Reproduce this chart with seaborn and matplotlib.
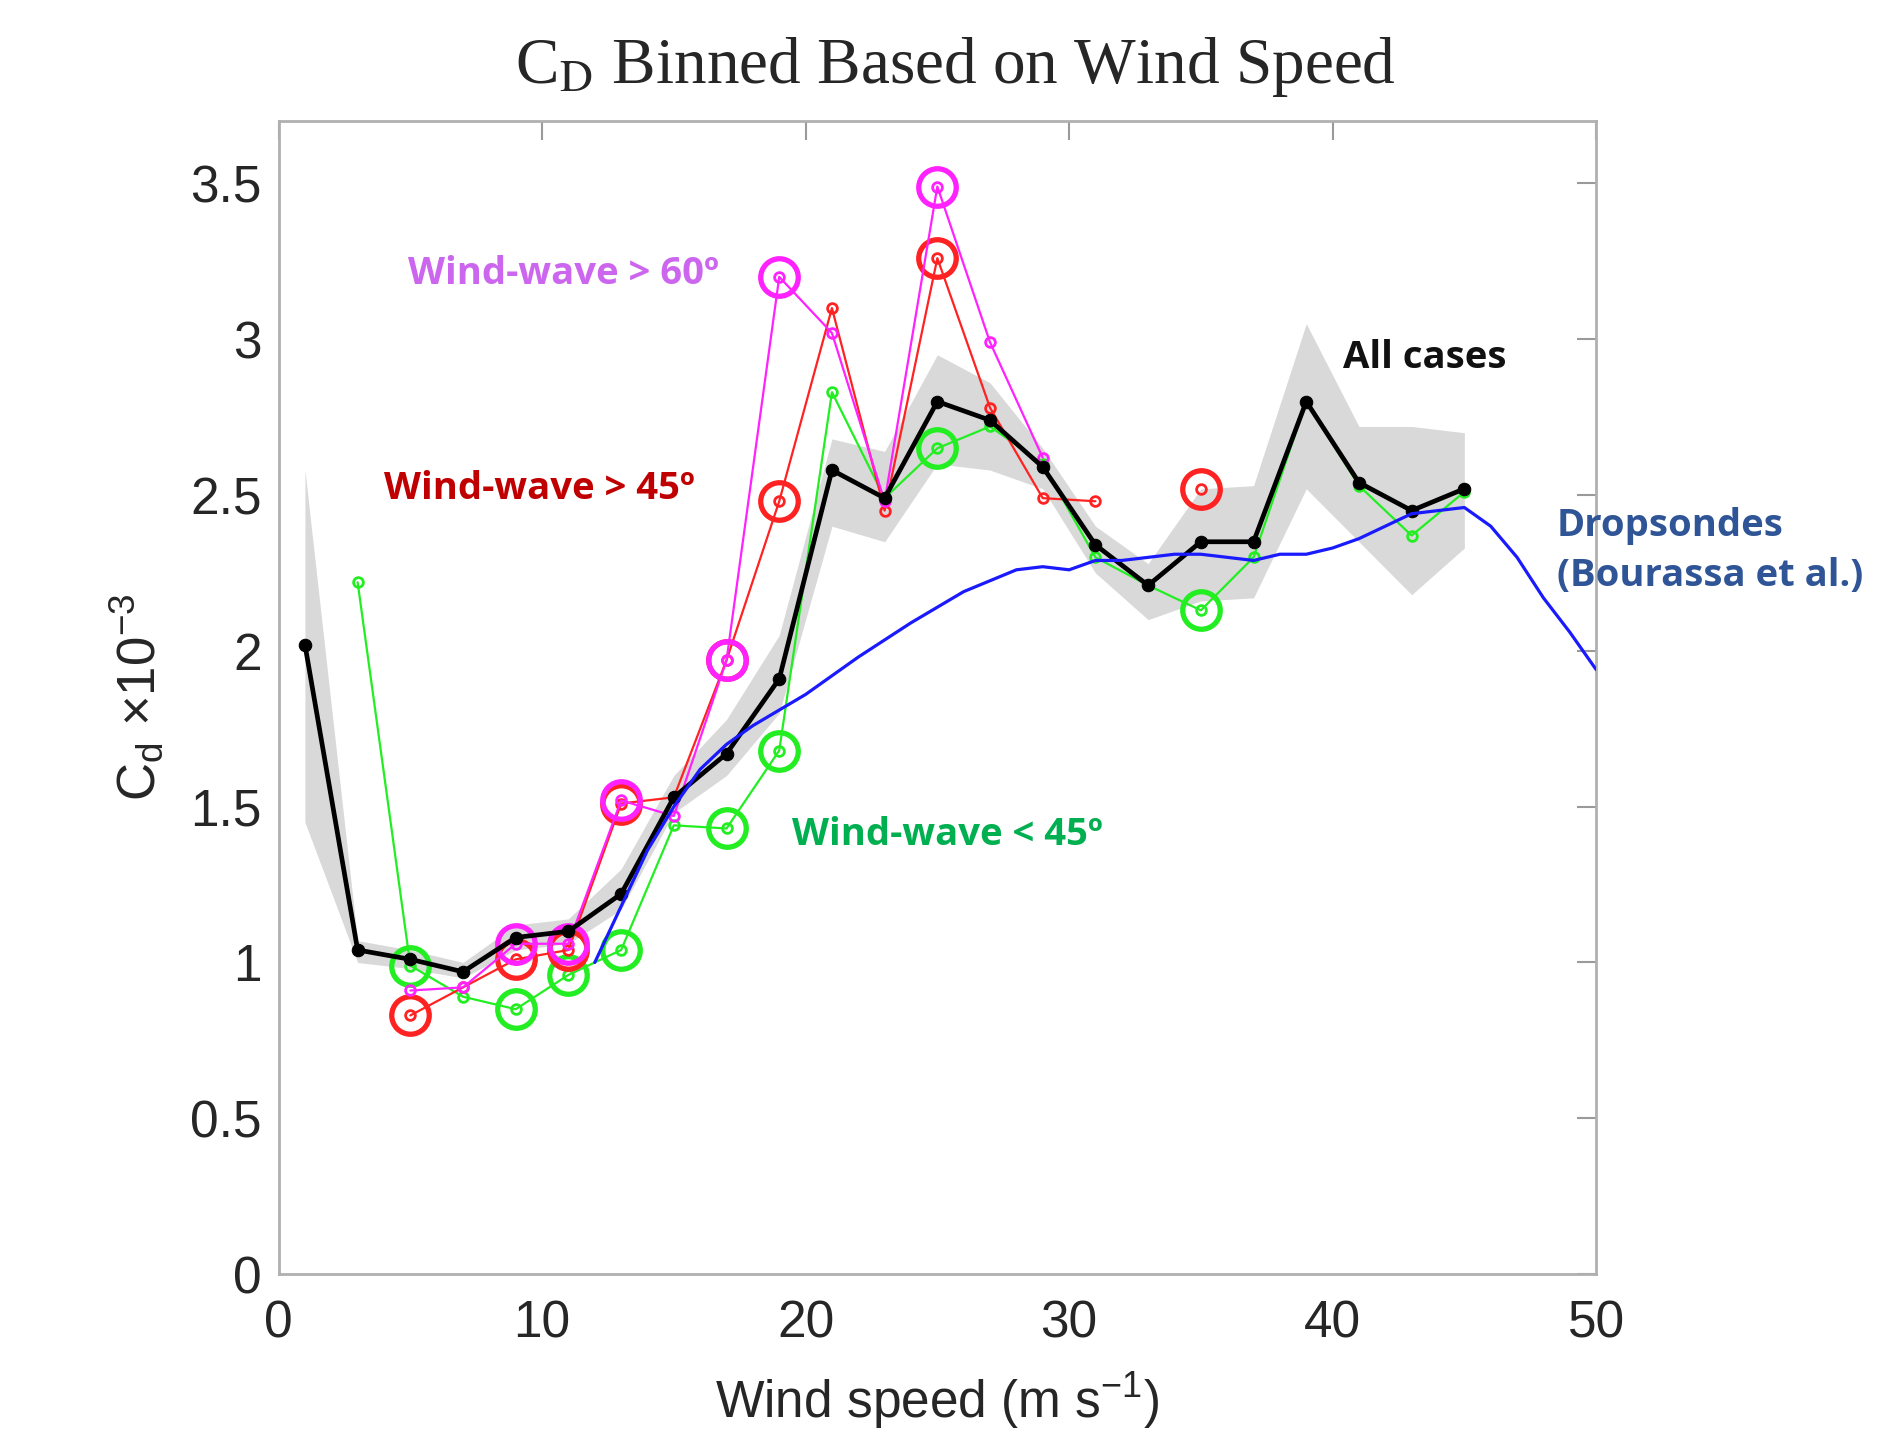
import seaborn as sns
import numpy as np
import pandas as pd
import matplotlib.pyplot as plt

sns.set_style("white")
plt.rcParams["font.family"] = ["Liberation Sans", "DejaVu Sans"]
plt.rcParams["mathtext.fontset"] = "custom"
plt.rcParams["mathtext.rm"] = "Liberation Sans"
plt.rcParams["mathtext.it"] = "Liberation Sans:italic"

# all cases (black) with spread band
all_x = [1, 3, 5, 7, 9, 11, 13, 15, 17, 19, 21, 23, 25, 27, 29, 31, 33, 35, 37, 39, 41, 43, 45]
all_cd = [2.02, 1.04, 1.01, 0.97, 1.08, 1.10, 1.22, 1.53, 1.67, 1.91, 2.58, 2.49, 2.80, 2.74,
          2.59, 2.34, 2.21, 2.35, 2.35, 2.80, 2.54, 2.45, 2.52]
all_hi = [2.58, 1.07, 1.04, 1.00, 1.12, 1.14, 1.30, 1.60, 1.78, 2.05, 2.68, 2.64, 2.95, 2.86,
          2.65, 2.40, 2.28, 2.52, 2.53, 3.05, 2.72, 2.72, 2.70]
all_lo = [1.45, 1.00, 0.98, 0.95, 1.04, 1.06, 1.17, 1.48, 1.60, 1.80, 2.40, 2.35, 2.60, 2.58,
          2.52, 2.25, 2.10, 2.16, 2.17, 2.52, 2.35, 2.18, 2.33]

# wind-wave > 60 (magenta)
m60_x = [5, 7, 9, 11, 13, 15, 17, 19, 21, 23, 25, 27, 29]
m60_cd = [0.91, 0.92, 1.06, 1.06, 1.52, 1.47, 1.97, 3.20, 3.02, 2.48, 3.49, 2.99, 2.62]
m60_big = [9, 11, 13, 17, 19, 25]

# wind-wave > 45 (red)
r45_x = [5, 7, 9, 11, 13, 15, 17, 19, 21, 23, 25, 27, 29, 31]
r45_cd = [0.83, 0.92, 1.01, 1.04, 1.51, 1.53, 1.97, 2.48, 3.10, 2.45, 3.26, 2.78, 2.49, 2.48]
r45_lone_x = [35]
r45_lone_cd = [2.52]
r45_big = [5, 9, 11, 13, 17, 19, 25, 35]

# wind-wave < 45 (green)
g45_x = [3, 5, 7, 9, 11, 13, 15, 17, 19, 21, 23, 25, 27, 29, 31, 33, 35, 37, 39, 41, 43, 45]
g45_cd = [2.22, 0.99, 0.89, 0.85, 0.96, 1.04, 1.44, 1.43, 1.68, 2.83, 2.49, 2.65, 2.72, 2.60,
          2.30, 2.21, 2.13, 2.30, 2.80, 2.53, 2.37, 2.51]
g45_big = [5, 9, 11, 13, 17, 19, 25, 35]

# dropsondes (Bourassa et al.)
drop_x = [12, 13, 14, 15, 16, 17, 18, 19, 20, 22, 24, 25, 26, 28, 29, 30, 31, 32, 34, 35,
          36, 37, 38, 39, 40, 41, 42, 43, 44, 45, 46, 47, 48, 49, 50]
drop_cd = [1.00, 1.18, 1.36, 1.50, 1.62, 1.70, 1.76, 1.81, 1.86, 1.98, 2.09, 2.14, 2.19, 2.26,
           2.27, 2.26, 2.29, 2.29, 2.31, 2.31, 2.30, 2.29, 2.31, 2.31, 2.33, 2.36, 2.40, 2.44,
           2.45, 2.46, 2.40, 2.30, 2.17, 2.06, 1.94]

fig = plt.figure(figsize=(18.99, 14.38), dpi=100)
ax = fig.add_axes([0.1467, 0.114, 0.6938, 0.8018])

ax.fill_between(all_x, all_lo, all_hi, color="#d9d9d9", lw=0, zorder=1)


def series(xs, ys, big, line_c, lw, z):
    df = pd.DataFrame({"x": xs, "y": ys})
    sns.lineplot(data=df, x="x", y="y", ax=ax, color=line_c, lw=lw, marker="o",
                 markersize=7, markerfacecolor="none", markeredgecolor=line_c,
                 markeredgewidth=2, zorder=z)
    b = df[df["x"].isin(big)]
    ax.plot(b["x"], b["y"], "o", ms=27, mfc="none", mec=line_c, mew=3.8, zorder=z)


series(g45_x, g45_cd, g45_big, "#22ee22", 1.6, 3)
series(r45_x, r45_cd, r45_big, "#ff2222", 1.6, 4)
ax.plot(r45_lone_x, r45_lone_cd, "o", ms=7, mfc="none", mec="#ff2222", mew=2, zorder=4)
ax.plot(r45_lone_x, r45_lone_cd, "o", ms=27, mfc="none", mec="#ff2222", mew=3.8, zorder=4)
series(m60_x, m60_cd, m60_big, "#ff22ff", 1.6, 5)

sns.lineplot(x=all_x, y=all_cd, ax=ax, color="black", lw=3.4, marker="o", markersize=9,
             markeredgecolor="black", zorder=6)
sns.lineplot(x=drop_x, y=drop_cd, ax=ax, color="#1a1aff", lw=2.3, zorder=7)

ax.set_xlim(0, 50)
ax.set_ylim(0, 3.7)
ax.set_xticks(range(0, 51, 10))
ax.set_yticks([0, 0.5, 1, 1.5, 2, 2.5, 3, 3.5])
ax.set_yticklabels(["0", "0.5", "1", "1.5", "2", "2.5", "3", "3.5"])
ax.tick_params(direction="in", length=14, width=1.5, color="#9a9a9a", labelsize=37,
               labelcolor="#262626", top=True, right=True)
ax.tick_params(axis="x", pad=18)
ax.tick_params(axis="y", pad=12)
for s in ax.spines.values():
    s.set_color("#b0b0b0")
    s.set_linewidth(2)

ax.set_xlabel("Wind speed (m s$^{-1}$)", fontsize=37, color="#262626", labelpad=16)
ax.set_ylabel(r"C$_\mathrm{d}$ $\times$10$^{-3}$", fontsize=38, color="#262626", labelpad=18)

fig.text(0.503, 0.931, r"C$_\mathrm{D}$ Binned Based on Wind Speed", ha="center", va="bottom",
         fontsize=47, family=["Liberation Serif"], math_fontfamily="stix")

lab = dict(fontsize=27.5, fontweight="bold", family=["Open Sans", "DejaVu Sans"], va="center")
ax.text(4.9, 3.21, "Wind-wave > 60º", color="#cc66ee", **lab)
ax.text(4.0, 2.52, "Wind-wave > 45º", color="#c00000", **lab)
ax.text(40.4, 2.94, "All cases", color="#111111", **lab)
ax.text(19.5, 1.41, "Wind-wave < 45º", color="#00b050", **lab)
ax.text(48.5, 2.32, "Dropsondes\n(Bourassa et al.)", color="#2f5597", clip_on=False,
        linespacing=1.4, **lab)

fig.savefig("out.png", dpi=100)
